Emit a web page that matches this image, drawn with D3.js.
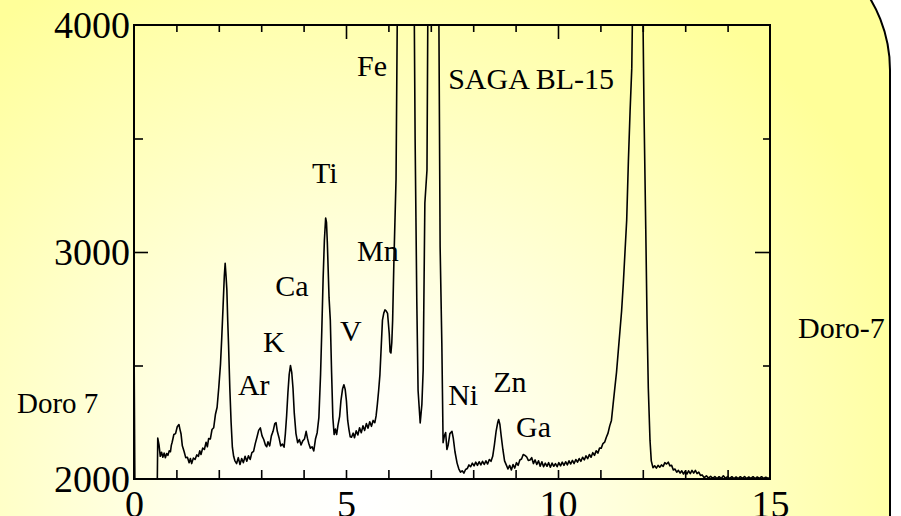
<!DOCTYPE html>
<html>
<head>
<meta charset="utf-8">
<script src="https://cdn.jsdelivr.net/npm/d3@7"></script>
<style>
  html, body { margin: 0; padding: 0; background: #ffffff; }
  svg { display: block; }
  text { font-family: "Liberation Serif", "Times New Roman", serif; fill: #000; }
</style>
</head>
<body>
<svg id="chart" width="901" height="516"></svg>
<script>
// X-ray fluorescence spectrum, sample Doro 7 (SAGA BL-15). [energy keV, counts]
const spectrum = [
  [0.00, 2630], [0.02, 2000], [0.55, 2000], [0.56, 2180], [0.59, 2150], [0.62, 2100],
  [0.65, 2118], [0.68, 2096], [0.71, 2114], [0.74, 2094], [0.77, 2112], [0.80, 2104],
  [0.83, 2124], [0.86, 2120], [0.88, 2148], [0.90, 2162], [0.94, 2196], [0.98, 2200],
  [1.02, 2230], [1.06, 2240], [1.08, 2222], [1.11, 2198], [1.14, 2146], [1.18, 2122],
  [1.22, 2094], [1.26, 2096], [1.30, 2072], [1.33, 2090], [1.36, 2068], [1.40, 2092],
  [1.44, 2086], [1.48, 2106], [1.52, 2100], [1.55, 2124], [1.58, 2108], [1.62, 2136],
  [1.66, 2130], [1.70, 2162], [1.73, 2142], [1.76, 2178], [1.80, 2176], [1.84, 2218],
  [1.88, 2226], [1.92, 2284], [1.96, 2316], [2.00, 2404], [2.04, 2506], [2.07, 2624],
  [2.10, 2756], [2.13, 2894], [2.15, 2950], [2.17, 2896], [2.19, 2834], [2.21, 2700],
  [2.23, 2590], [2.26, 2400], [2.29, 2250], [2.32, 2140], [2.35, 2100], [2.38, 2080],
  [2.42, 2068], [2.46, 2094], [2.50, 2064], [2.54, 2090], [2.58, 2072], [2.62, 2100],
  [2.66, 2078], [2.70, 2102], [2.74, 2086], [2.78, 2116], [2.82, 2122], [2.86, 2156],
  [2.90, 2184], [2.94, 2214], [2.98, 2225], [3.02, 2190], [3.06, 2174], [3.10, 2150],
  [3.13, 2142], [3.16, 2164], [3.20, 2146], [3.24, 2190], [3.28, 2210], [3.32, 2244],
  [3.35, 2248], [3.38, 2210], [3.42, 2182], [3.46, 2146], [3.50, 2154], [3.54, 2140],
  [3.57, 2200], [3.60, 2280], [3.63, 2380], [3.66, 2460], [3.69, 2500], [3.72, 2470],
  [3.75, 2400], [3.78, 2290], [3.82, 2200], [3.86, 2160], [3.90, 2174], [3.94, 2150],
  [3.98, 2168], [4.02, 2176], [4.06, 2210], [4.09, 2180], [4.12, 2158], [4.16, 2136],
  [4.20, 2142], [4.24, 2124], [4.28, 2176], [4.32, 2204], [4.36, 2270], [4.40, 2460],
  [4.43, 2660], [4.46, 2880], [4.49, 3050], [4.52, 3150], [4.54, 3130], [4.56, 3040],
  [4.58, 2920], [4.60, 2800], [4.63, 2700], [4.66, 2470], [4.69, 2270], [4.72, 2196],
  [4.75, 2220], [4.78, 2196], [4.81, 2236], [4.85, 2276], [4.88, 2344], [4.92, 2398],
  [4.95, 2415], [4.98, 2396], [5.01, 2344], [5.04, 2258], [5.07, 2218], [5.10, 2186],
  [5.13, 2184], [5.17, 2202], [5.20, 2182], [5.24, 2212], [5.28, 2194], [5.32, 2226],
  [5.36, 2204], [5.40, 2234], [5.44, 2214], [5.48, 2244], [5.52, 2224], [5.56, 2252],
  [5.60, 2232], [5.64, 2258], [5.68, 2248], [5.71, 2278], [5.74, 2330], [5.77, 2390],
  [5.80, 2460], [5.83, 2580], [5.86, 2700], [5.89, 2730], [5.92, 2745], [5.95, 2740],
  [5.98, 2730], [6.02, 2640], [6.04, 2560], [6.06, 2555], [6.08, 2600], [6.10, 2700],
  [6.13, 2960], [6.18, 3320], [6.21, 4050], [6.40, 9000], [6.61, 4050], [6.63, 3500],
  [6.67, 2780], [6.70, 2390], [6.75, 2247], [6.79, 2330], [6.82, 2480], [6.86, 3216],
  [6.91, 3361], [6.93, 4050], [7.06, 6000], [7.19, 4050], [7.22, 3022], [7.26, 2600],
  [7.29, 2160], [7.32, 2190], [7.35, 2205], [7.38, 2130], [7.41, 2150], [7.45, 2200],
  [7.50, 2210], [7.53, 2180], [7.57, 2120], [7.62, 2070], [7.66, 2045], [7.70, 2030],
  [7.74, 2036], [7.78, 2026], [7.82, 2042], [7.86, 2046], [7.90, 2062], [7.94, 2054],
  [7.98, 2070], [8.02, 2058], [8.06, 2074], [8.10, 2060], [8.14, 2076], [8.18, 2062],
  [8.22, 2078], [8.26, 2064], [8.30, 2080], [8.34, 2066], [8.38, 2086], [8.42, 2078],
  [8.46, 2100], [8.50, 2150], [8.54, 2210], [8.58, 2250], [8.60, 2262], [8.63, 2240],
  [8.66, 2190], [8.70, 2130], [8.74, 2080], [8.78, 2062], [8.82, 2044], [8.86, 2060],
  [8.90, 2040], [8.94, 2064], [8.98, 2048], [9.02, 2072], [9.06, 2060], [9.10, 2084],
  [9.14, 2088], [9.18, 2108], [9.22, 2104], [9.26, 2098], [9.30, 2082], [9.34, 2084],
  [9.38, 2094], [9.42, 2068], [9.46, 2084], [9.50, 2064], [9.54, 2080], [9.58, 2056],
  [9.62, 2076], [9.66, 2054], [9.70, 2070], [9.74, 2056], [9.78, 2072], [9.82, 2052],
  [9.86, 2070], [9.90, 2056], [9.94, 2068], [9.98, 2054], [10.02, 2072], [10.06, 2058],
  [10.10, 2074], [10.14, 2060], [10.18, 2076], [10.22, 2062], [10.26, 2080], [10.30, 2066],
  [10.34, 2082], [10.38, 2068], [10.42, 2086], [10.46, 2074], [10.50, 2090], [10.54, 2078],
  [10.58, 2096], [10.62, 2084], [10.66, 2102], [10.70, 2090], [10.74, 2108], [10.78, 2096],
  [10.82, 2116], [10.86, 2104], [10.90, 2124], [10.94, 2114], [10.98, 2136], [11.02, 2136],
  [11.06, 2156], [11.10, 2162], [11.14, 2184], [11.18, 2202], [11.22, 2234], [11.26, 2258],
  [11.30, 2330], [11.34, 2400], [11.38, 2470], [11.42, 2560], [11.46, 2650], [11.50, 2740],
  [11.54, 2860], [11.58, 3000], [11.62, 3140], [11.66, 3400], [11.70, 3620], [11.74, 3810],
  [11.76, 4100], [11.90, 9000], [12.00, 4100], [12.03, 3600], [12.07, 3100], [12.10, 2700],
  [12.13, 2400], [12.17, 2170], [12.20, 2080], [12.24, 2050], [12.28, 2058], [12.32, 2048],
  [12.36, 2060], [12.40, 2052], [12.44, 2062], [12.48, 2056], [12.52, 2072], [12.56, 2066],
  [12.60, 2074], [12.64, 2058], [12.68, 2060], [12.72, 2040], [12.76, 2044], [12.80, 2030],
  [12.84, 2038], [12.88, 2026], [12.92, 2036], [12.96, 2022], [13.00, 2034], [13.04, 2022],
  [13.08, 2036], [13.12, 2024], [13.16, 2038], [13.20, 2026], [13.24, 2038], [13.28, 2024],
  [13.32, 2030], [13.36, 2016], [13.40, 2018], [13.45, 2006], [13.50, 2014], [13.55, 2004],
  [13.60, 2012], [13.65, 2003], [13.70, 2011], [13.75, 2002], [13.80, 2010], [13.85, 2002],
  [13.90, 2014], [13.95, 2003], [14.00, 2011], [14.05, 2002], [14.10, 2010], [14.15, 2002],
  [14.20, 2009], [14.25, 2002], [14.30, 2010], [14.35, 2003], [14.40, 2011], [14.45, 2002],
  [14.50, 2009], [14.55, 2003], [14.60, 2010], [14.65, 2002], [14.70, 2009], [14.75, 2003],
  [14.80, 2010], [14.85, 2002], [14.90, 2008], [14.95, 2003], [15.00, 2006]
];

// Axis ticks
const xLabelTicks = [0, 5, 10, 15];
const xMinorTicks = [1, 2, 3, 4, 6, 7, 8, 9, 11, 12, 13, 14];
const xMajorTicks = [5, 10];
const yLabelTicks = [2000, 3000, 4000];
const yMinorTicks = [2500, 3500];
const yMajorTicks = [3000];

// Element line labels and the sample / beamline captions
const elementNames = ["Ar", "K", "Ca", "Ti", "V", "Mn", "Fe", "Ni", "Zn", "Ga"];
const beamlineName = "SAGA BL-15";
const sampleNames = ["Doro 7", "Doro-7"];

const svg = d3.select("#chart");
const W = 901, H = 516;

// ---- background panel -------------------------------------------------
const defs = svg.append("defs");
const grad = defs.append("radialGradient")
  .attr("id", "panelFill")
  .attr("gradientUnits", "userSpaceOnUse")
  .attr("cx", 360).attr("cy", 500).attr("r", 600);
grad.append("stop").attr("offset", 0).attr("stop-color", "#ffffff");
grad.append("stop").attr("offset", 0.2).attr("stop-color", "#fffff6");
grad.append("stop").attr("offset", 1).attr("stop-color", "#ffff99");

svg.append("rect").attr("width", W).attr("height", H).attr("fill", "#ffffff");

// rounded panel whose top-right corner shows inside the view
const pr = { left: -20, top: -68, right: 890, bottom: H + 40, r: 138 };
const panelPath = d3.path();
panelPath.moveTo(pr.left, pr.top);
panelPath.lineTo(pr.right - pr.r, pr.top);
panelPath.arcTo(pr.right, pr.top, pr.right, pr.top + pr.r, pr.r);
panelPath.lineTo(pr.right, pr.bottom);
panelPath.lineTo(pr.left, pr.bottom);
panelPath.closePath();
svg.append("path")
  .attr("d", panelPath.toString())
  .attr("fill", "url(#panelFill)")
  .attr("stroke", "#000")
  .attr("stroke-width", 2);

// ---- scales -----------------------------------------------------------
const plot = { left: 134, right: 770, top: 25, bottom: 479 };
const x = d3.scaleLinear().domain([0, 15]).range([plot.left, plot.right]);
const y = d3.scaleLinear().domain([2000, 4000]).range([plot.bottom, plot.top]);

defs.append("clipPath").attr("id", "plotClip")
  .append("rect")
  .attr("x", plot.left - 2).attr("y", plot.top)
  .attr("width", plot.right - plot.left + 2).attr("height", plot.bottom - plot.top);

// ---- axes -------------------------------------------------------------
const tickFont = 38;
function styleAxis(g) {
  g.select(".domain").remove();
  g.selectAll(".tick line").attr("stroke", "#000").attr("stroke-width", 1.6);
  g.selectAll(".tick text")
    .attr("fill", "#000")
    .style("font-family", '"Liberation Serif", "Times New Roman", serif')
    .style("font-size", tickFont + "px");
}

// frame
svg.append("rect")
  .attr("x", plot.left).attr("y", plot.top)
  .attr("width", plot.right - plot.left).attr("height", plot.bottom - plot.top)
  .attr("fill", "none").attr("stroke", "#000").attr("stroke-width", 2);

// bottom: short inward ticks and labels
svg.append("g").attr("transform", `translate(0,${plot.bottom})`)
  .call(d3.axisBottom(x).tickValues(xMinorTicks.concat(xMajorTicks)).tickSizeInner(-9).tickSizeOuter(0).tickFormat(""))
  .call(styleAxis);
svg.append("g").attr("transform", `translate(0,${plot.bottom})`)
  .call(d3.axisBottom(x).tickValues(xLabelTicks).tickSize(0).tickPadding(11).tickFormat(d3.format("d")))
  .call(styleAxis);

// top: minor and major inward ticks
svg.append("g").attr("transform", `translate(0,${plot.top})`)
  .call(d3.axisTop(x).tickValues(xMinorTicks).tickSizeInner(-7).tickSizeOuter(0).tickFormat(""))
  .call(styleAxis);
svg.append("g").attr("transform", `translate(0,${plot.top})`)
  .call(d3.axisTop(x).tickValues(xMajorTicks).tickSizeInner(-14).tickSizeOuter(0).tickFormat(""))
  .call(styleAxis);

// left
svg.append("g").attr("transform", `translate(${plot.left},0)`)
  .call(d3.axisLeft(y).tickValues(yMinorTicks).tickSizeInner(-9).tickSizeOuter(0).tickFormat(""))
  .call(styleAxis);
svg.append("g").attr("transform", `translate(${plot.left},0)`)
  .call(d3.axisLeft(y).tickValues(yMajorTicks).tickSizeInner(-14).tickSizeOuter(0).tickFormat(""))
  .call(styleAxis);
svg.append("g").attr("transform", `translate(${plot.left},0)`)
  .call(d3.axisLeft(y).tickValues(yLabelTicks).tickSize(0).tickPadding(4).tickFormat(d3.format("d")))
  .call(styleAxis);

// right
svg.append("g").attr("transform", `translate(${plot.right},0)`)
  .call(d3.axisRight(y).tickValues(yMinorTicks).tickSizeInner(-7).tickSizeOuter(0).tickFormat(""))
  .call(styleAxis);
svg.append("g").attr("transform", `translate(${plot.right},0)`)
  .call(d3.axisRight(y).tickValues(yMajorTicks).tickSizeInner(-15).tickSizeOuter(0).tickFormat(""))
  .call(styleAxis);

// ---- spectrum trace (drawn over the frame) ----------------------------
const line = d3.line().x(d => x(d[0])).y(d => y(d[1]));
svg.append("path")
  .datum(spectrum)
  .attr("clip-path", "url(#plotClip)")
  .attr("fill", "none")
  .attr("stroke", "#000")
  .attr("stroke-width", 1.6)
  .attr("stroke-linejoin", "round")
  .attr("d", line);

// ---- annotations ------------------------------------------------------
// label anchors (left edge, baseline) in keV / counts
const labelAt = {
  "Ar": [2.45, 2370], "K": [3.04, 2559], "Ca": [3.33, 2806], "Ti": [4.20, 3304],
  "V": [4.86, 2608], "Mn": [5.26, 2960], "Fe": [5.26, 3775], "Ni": [7.41, 2326],
  "Zn": [8.47, 2383], "Ga": [9.01, 2185]
};
const labelFont = 30;
svg.append("g").selectAll("text")
  .data(elementNames)
  .join("text")
  .attr("x", d => x(labelAt[d][0]))
  .attr("y", d => y(labelAt[d][1]))
  .style("font-size", labelFont + "px")
  .text(d => d);

svg.append("text")
  .attr("x", x(7.41)).attr("y", y(3718))
  .style("font-size", labelFont + "px")
  .text(beamlineName);

svg.append("text")
  .attr("x", 17).attr("y", 413)
  .style("font-size", "29px")
  .text(sampleNames[0]);

svg.append("text")
  .attr("x", 798).attr("y", 338)
  .style("font-size", "30px")
  .text(sampleNames[1]);
</script>
</body>
</html>
